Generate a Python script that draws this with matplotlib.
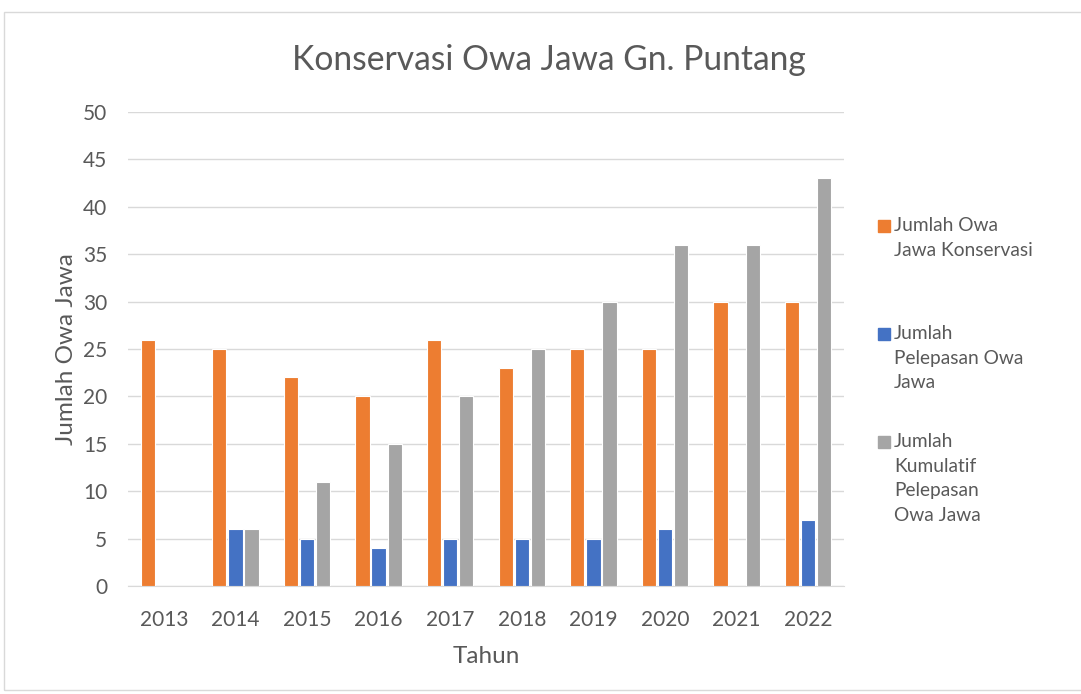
import matplotlib.pyplot as plt
from matplotlib.patches import Rectangle
import numpy as np

tahun = ['2013', '2014', '2015', '2016', '2017', '2018', '2019', '2020', '2021', '2022']
konservasi = [26, 25, 22, 20, 26, 23, 25, 25, 30, 30]
pelepasan = [0, 6, 5, 4, 5, 5, 5, 6, 0, 7]
kumulatif = [0, 6, 11, 15, 20, 25, 30, 36, 36, 43]
labels = ['Jumlah Owa\nJawa Konservasi', 'Jumlah\nPelepasan Owa\nJawa',
          'Jumlah\nKumulatif\nPelepasan\nOwa Jawa']
colors = ['#ED7D31', '#4472C4', '#A5A5A5']
txt = '#595959'

plt.rcParams['font.family'] = ['Lato', 'DejaVu Sans']

fig = plt.figure(figsize=(10.81, 6.94), dpi=100)
ax = fig.add_axes([128 / 1081, 1 - 586 / 694, 716 / 1081, 474 / 694])

x = np.arange(len(tahun))
w = 0.2
for i, vals in enumerate([konservasi, pelepasan, kumulatif]):
    ax.bar(x + (i - 1) * 0.225, vals, w, color=colors[i], edgecolor='white', linewidth=0.8, zorder=3)

ax.set_xlim(-0.5, len(tahun) - 0.5)
ax.set_ylim(0, 50)
ax.set_yticks(range(0, 51, 5))
ax.set_xticks(x)
ax.set_xticklabels(tahun)
ax.grid(axis='y', color='#d9d9d9', linewidth=1, zorder=0)
for s in ['top', 'right', 'left']:
    ax.spines[s].set_visible(False)
ax.spines['bottom'].set_color('#d9d9d9')
ax.tick_params(length=0, labelsize=15, colors=txt)
ax.tick_params(axis='x', pad=17)
ax.tick_params(axis='y', pad=15)

ax.set_xlabel('Tahun', fontsize=17.5, color=txt, labelpad=12)
ax.set_ylabel('Jumlah Owa Jawa', fontsize=17.5, color=txt, labelpad=4)
fig.text(0.508, 0.913, 'Konservasi Owa Jawa Gn. Puntang', fontsize=24.2, color=txt,
         ha='center', va='center')

# legenda
tops = [220, 328, 436]
for i in range(3):
    yy = 1 - tops[i] / 694
    fig.patches.append(Rectangle((878 / 1081, yy - 12 / 694), 12 / 1081, 12 / 694,
                                 transform=fig.transFigure, color=colors[i]))
    fig.text(894 / 1081, yy + 3 / 694, labels[i], fontsize=13.8, color=txt,
             ha='left', va='top', linespacing=1.55)

fig.patches.append(Rectangle((4 / 1081, 4 / 694), 1.0, 678 / 694, transform=fig.transFigure,
                             fill=False, edgecolor='#d9d9d9', linewidth=1))

fig.savefig('out.png', dpi=100)
